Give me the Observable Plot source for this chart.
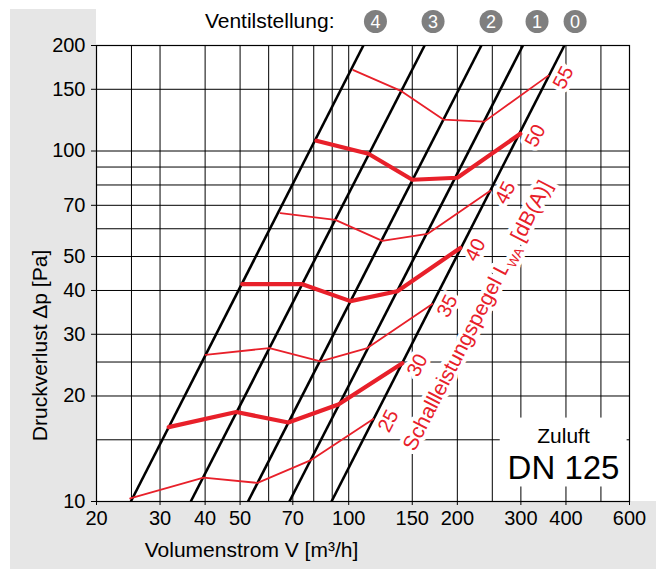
<!DOCTYPE html>
<html><head><meta charset="utf-8">
<script src="https://cdn.jsdelivr.net/npm/d3@7"></script>
<script src="https://cdn.jsdelivr.net/npm/@observablehq/plot@0.6"></script>
<style>
html,body{margin:0;padding:0;background:#fff;}
#wrap{position:relative;width:656px;height:570px;overflow:hidden;font-family:"Liberation Sans",Arial,sans-serif;}
.bg{position:absolute;background:#e6e6e6;}
#chart{position:absolute;left:0;top:0;}
</style></head><body>
<div id="wrap">
<div class="bg" style="left:10px;top:9px;width:86px;height:560px"></div>
<div class="bg" style="left:10px;top:501px;width:646px;height:68px"></div>
<div id="chart"></div>
</div>
<script>
// ---- data ----
const xTicks = [20, 30, 40, 50, 70, 100, 150, 200, 300, 400, 600];
const yTicks = [10, 20, 30, 40, 50, 70, 100, 150, 200];
const gridFlow = [25, 30, 40, 50, 60, 70, 80, 90, 100, 150, 200, 250, 300, 400, 500];
const gridDp = [15, 20, 25, 30, 40, 50, 60, 70, 80, 90, 100, 150];

const valves = ["4", "3", "2", "1", "0"];
const valveFlowLow = [24.9, 36.5, 52.6, 68.5, 89.6];     // m³/h at 10 Pa
const valveDpLow = [10, 10, 10, 10, 10];
const valveFlowHigh = [109.8, 162.3, 233.1, 303.9, 396]; // m³/h at 200 Pa
const valveDpHigh = [200, 200, 200, 200, 200];
const valveBadgeFlow = [118.6, 171.3, 248, 332.6, 424];

const levels = [25, 30, 35, 40, 45, 50, 55];
const flow25 = [24.8, 39.6, 55.9, 78.3, 117];
const dp25   = [10.2, 11.7, 11.3, 13.1, 17.2];
const flow30 = [31.7, 48.8, 68.0, 93.6, 140.8];
const dp30   = [16.3, 18.0, 16.8, 18.9, 24.8];
const flow35 = [40.1, 60.3, 83.5, 112.6, 170.5];
const dp35   = [26.2, 27.4, 25.1, 27.4, 36.6];
const flow40 = [50.7, 74.4, 101.1, 136.4, 203.8];
const dp40   = [41.7, 41.7, 37.3, 39.8, 52.9];
const flow45 = [64.7, 91.8, 123.9, 165.2, 246.8];
const dp45   = [66.5, 63.6, 55.4, 58.0, 77.0];
const flow50 = [81.4, 113.4, 150.1, 200, 298.9];
const dp50   = [107, 98.2, 82.8, 83.9, 112];
const flow55 = [103, 139, 182.9, 237.6, 357.4];
const dp55   = [170.2, 148.7, 122.9, 121.3, 164.1];

const boxFlow = [263, 591];
const boxDp = [11.0, 17.3];

const titleText = "Schallleistungspegel LWA [dB(A)]";

// ---- tables ----
const curveList = [[25, flow25, dp25], [30, flow30, dp30], [35, flow35, dp35], [40, flow40, dp40],
                   [45, flow45, dp45], [50, flow50, dp50], [55, flow55, dp55]];
const rows = curveList.flatMap(([lv, fs, ps]) => fs.map((f, i) => ({level: lv, flow: f, dp: ps[i]})));
const labelRows = curveList.map(([lv, fs, ps]) => ({level: lv, flow: fs[fs.length - 1], dp: ps[ps.length - 1]}));

const red = "#e8202a";
const font = "Liberation Sans, Arial, sans-serif";
const ang = -62.7;
const C = {textAnchor: "middle", lineAnchor: "middle", fontFamily: font};

const plot = Plot.plot({
  width: 656, height: 570,
  marginLeft: 96, marginRight: 27, marginTop: 45, marginBottom: 69,
  style: {background: "transparent", fontFamily: font, overflow: "visible"},
  x: {type: "log", domain: [20, 600], axis: null},
  y: {type: "log", domain: [10, 200], axis: null},
  marks: [
    Plot.ruleX(gridFlow, {stroke: "#000", strokeWidth: 1}),
    Plot.ruleY(gridDp, {stroke: "#000", strokeWidth: 1}),
    Plot.rect([{x1: boxFlow[0], x2: boxFlow[1], y1: boxDp[0], y2: boxDp[1]}],
      {x1: "x1", x2: "x2", y1: "y1", y2: "y2", fill: "white"}),
    Plot.text(labelRows, {x: "flow", y: "dp", text: d => String(d.level), rotate: ang, dx: 15, dy: 2, ...C,
      fill: red, stroke: "white", strokeWidth: 8, paintOrder: "stroke", fontSize: 20}),
    Plot.text([titleText], {frameAnchor: "top-left", dx: 381, dy: 270, rotate: ang, text: d => d, ...C,
      fill: red, stroke: "white", strokeWidth: 8, paintOrder: "stroke", fontSize: 21}),
    Plot.link(valves, {x1: valveFlowLow, y1: valveDpLow, x2: valveFlowHigh, y2: valveDpHigh,
      stroke: "#000", strokeWidth: 2.6}),
    Plot.line(rows.filter(d => d.level % 10 !== 0), {x: "flow", y: "dp", z: "level", stroke: red, strokeWidth: 1.8}),
    Plot.line(rows.filter(d => d.level % 10 === 0), {x: "flow", y: "dp", z: "level", stroke: red, strokeWidth: 4.2}),
    Plot.dot(valves, {x: valveBadgeFlow, frameAnchor: "top", dy: -24, r: 11.5, fill: "#7f7f7f"}),
    Plot.text(valves, {x: valveBadgeFlow, frameAnchor: "top", dy: -23, text: d => d, ...C, fill: "white", fontSize: 18}),
    Plot.text(["Ventilstellung:"], {frameAnchor: "top-left", dx: 238, dy: -24, text: d => d, ...C, textAnchor: "end", fontSize: 21, fill: "#000"}),
    Plot.text(["Zuluft"], {frameAnchor: "bottom-right", dx: -66, dy: -65, text: d => d, ...C, fontSize: 21, fill: "#000"}),
    Plot.text(["DN 125"], {frameAnchor: "bottom-right", dx: -66, dy: -33, text: d => d, ...C, fontSize: 33, fill: "#000"}),
    // x axis: ticks and labels
    Plot.ruleX(xTicks, {x: d => d, y1: 10, y2: 10, insetBottom: -4, stroke: "#000", strokeWidth: 1}),
    Plot.text(xTicks, {x: d => d, frameAnchor: "bottom", dy: 17, text: d => String(d), ...C, fontSize: 20, fill: "#000"}),
    // y axis: ticks and labels
    Plot.ruleY(yTicks, {y: d => d, x1: 20, x2: 20, insetLeft: -5, stroke: "#000", strokeWidth: 1}),
    Plot.text(yTicks, {y: d => d, frameAnchor: "left", dx: -11, text: d => String(d), ...C, textAnchor: "end", fontSize: 20, fill: "#000"}),
    Plot.text(["Volumenstrom V [m³/h]"], {frameAnchor: "bottom-left", dx: 155, dy: 49, text: d => d, ...C, fontSize: 21, fill: "#000"}),
    Plot.text(["Druckverlust Δp [Pa]"], {frameAnchor: "left", dx: -56, dy: 72, rotate: -90, text: d => d, ...C, fontSize: 21, fill: "#000"}),
    Plot.frame({stroke: "#000", strokeWidth: 1.2})
  ]
});
document.getElementById("chart").appendChild(plot);

// subscript for L_WA
d3.select(plot).selectAll("text").filter(function () { return this.textContent === titleText; })
  .each(function () {
    const t = d3.select(this);
    t.text(null);
    t.append("tspan").text("Schallleistungspegel L");
    t.append("tspan").attr("font-size", 13).attr("dy", 5).text("WA");
    t.append("tspan").attr("dy", -5).text(" [dB(A)]");
  });
</script>
</body></html>
